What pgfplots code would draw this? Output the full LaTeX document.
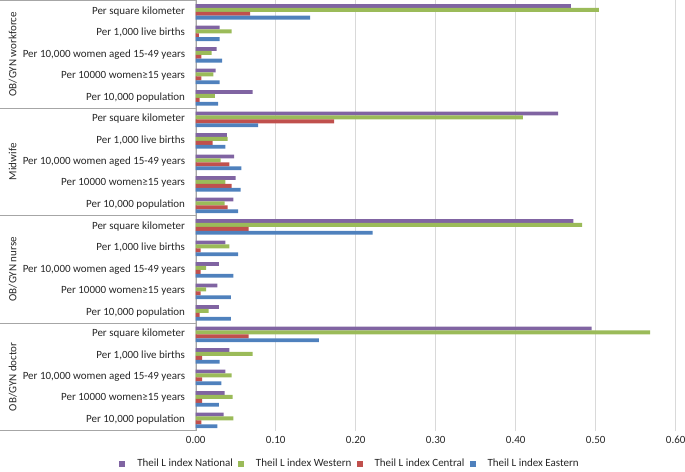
\documentclass[border=0pt]{standalone}
\usepackage{pgfplots}
\pgfplotsset{compat=1.18}
\usepackage{pgfplotstable}
\usepackage{fontspec}
\setmainfont{Carlito}
\definecolor{cNat}{HTML}{8064A2}
\definecolor{cWes}{HTML}{9BBB59}
\definecolor{cCen}{HTML}{C0504D}
\definecolor{cEas}{HTML}{4F81BD}
\definecolor{gridc}{HTML}{D9D9D9}
\definecolor{linec}{HTML}{A6A6A6}
\definecolor{txtc}{HTML}{262626}

\pgfplotstableread{
y national western central eastern
0  0.035 0.047 0.007 0.027
1  0.036 0.046 0.008 0.029
2  0.037 0.045 0.008 0.032
3  0.042 0.071 0.008 0.030
4  0.495 0.568 0.066 0.154
5  0.029 0.016 0.005 0.044
6  0.027 0.013 0.006 0.044
7  0.029 0.013 0.006 0.047
8  0.037 0.042 0.006 0.053
9  0.472 0.483 0.066 0.221
10 0.047 0.036 0.040 0.053
11 0.050 0.037 0.045 0.056
12 0.048 0.031 0.042 0.057
13 0.039 0.040 0.021 0.037
14 0.453 0.409 0.173 0.078
15 0.071 0.024 0.005 0.028
16 0.025 0.022 0.007 0.030
17 0.026 0.020 0.007 0.033
18 0.030 0.045 0.004 0.030
19 0.469 0.504 0.068 0.143
}\datatable

\begin{document}
\begin{tikzpicture}
\begin{axis}[
  scale only axis,
  width=480pt, height=430pt,
  xbar, bar width=3.9pt,
  xmin=0, xmax=0.6,
  ymin=-0.5, ymax=19.5,
  xtick={0,0.1,0.2,0.3,0.4,0.5,0.6},
  xticklabel style={/pgf/number format/fixed,/pgf/number format/precision=2,/pgf/number format/fixed zerofill, font=\fontsize{11}{13}\selectfont, color=txtc, yshift=-2pt},
  /pgf/number format/assume math mode=true,
  ytick={0,...,19},
  yticklabels={{Per 10,000 population},{Per 10000 women≥15 years},{Per 10,000 women aged 15-49 years},{Per 1,000 live births},{Per square kilometer},
               {Per 10,000 population},{Per 10000 women≥15 years},{Per 10,000 women aged 15-49 years},{Per 1,000 live births},{Per square kilometer},
               {Per 10,000 population},{Per 10000 women≥15 years},{Per 10,000 women aged 15-49 years},{Per 1,000 live births},{Per square kilometer},
               {Per 10,000 population},{Per 10000 women≥15 years},{Per 10,000 women aged 15-49 years},{Per 1,000 live births},{Per square kilometer}},
  yticklabel style={font=\fontsize{11}{13}\selectfont, inner sep=0pt, xshift=-10.5pt, color=txtc},
  major tick length=0pt,
  axis x line*=bottom, axis y line*=left,
  x axis line style={draw=none},
  y axis line style={draw=linec},
  xmajorgrids, grid style={gridc, line width=0.8pt},
  clip=false,
  legend columns=4,
  legend style={at={(0.5,0)}, anchor=center, xshift=-85.7pt, yshift=-33pt, draw=none, fill=none,
    font=\fontsize{11}{13}\selectfont, text=txtc, column sep=10pt, /tikz/every even column/.append style={column sep=3pt}},
  legend image code/.code={\path[#1] (0pt,-3pt) rectangle (6pt,3pt);},
]
\addplot[fill=cNat, draw=none, bar shift=5.25pt] table[x=national, y=y] {\datatable};
\addlegendentry{Theil L index National}
\addplot[fill=cWes, draw=none, bar shift=1.35pt] table[x=western, y=y] {\datatable};
\addlegendentry{Theil L index Western}
\addplot[fill=cCen, draw=none, bar shift=-2.55pt] table[x=central, y=y] {\datatable};
\addlegendentry{Theil L index Central}
\addplot[fill=cEas, draw=none, bar shift=-6.45pt] table[x=eastern, y=y] {\datatable};
\addlegendentry{Theil L index Eastern}

\draw[linec, line width=0.8pt] ([xshift=-195.7pt]axis cs:0,-0.5) -- (axis cs:0,-0.5);
\draw[linec, line width=0.8pt] ([xshift=-195.7pt]axis cs:0,4.5) -- (axis cs:0,4.5);
\draw[linec, line width=0.8pt] ([xshift=-195.7pt]axis cs:0,9.5) -- (axis cs:0,9.5);
\draw[linec, line width=0.8pt] ([xshift=-195.7pt]axis cs:0,14.5) -- (axis cs:0,14.5);
\draw[linec, line width=0.8pt] ([xshift=-195.7pt]axis cs:0,19.5) -- (axis cs:0,19.5);
\node[rotate=90, font=\fontsize{11}{13}\selectfont, text=txtc] at ([xshift=-183pt]axis cs:0,17) {OB/GYN workforce};
\node[rotate=90, font=\fontsize{11}{13}\selectfont, text=txtc] at ([xshift=-183pt]axis cs:0,12) {Midwife};
\node[rotate=90, font=\fontsize{11}{13}\selectfont, text=txtc] at ([xshift=-183pt]axis cs:0,7) {OB/GYN nurse};
\node[rotate=90, font=\fontsize{11}{13}\selectfont, text=txtc] at ([xshift=-183pt]axis cs:0,2) {OB/GYN doctor};
\coordinate (bl) at ([xshift=-195.7pt,yshift=-41pt]rel axis cs:0,0);
\coordinate (tr) at ([xshift=9.3pt,yshift=0.5pt]rel axis cs:1,1);
\end{axis}
\pgfresetboundingbox
\path[use as bounding box] (bl) rectangle (tr);
\end{tikzpicture}
\end{document}
